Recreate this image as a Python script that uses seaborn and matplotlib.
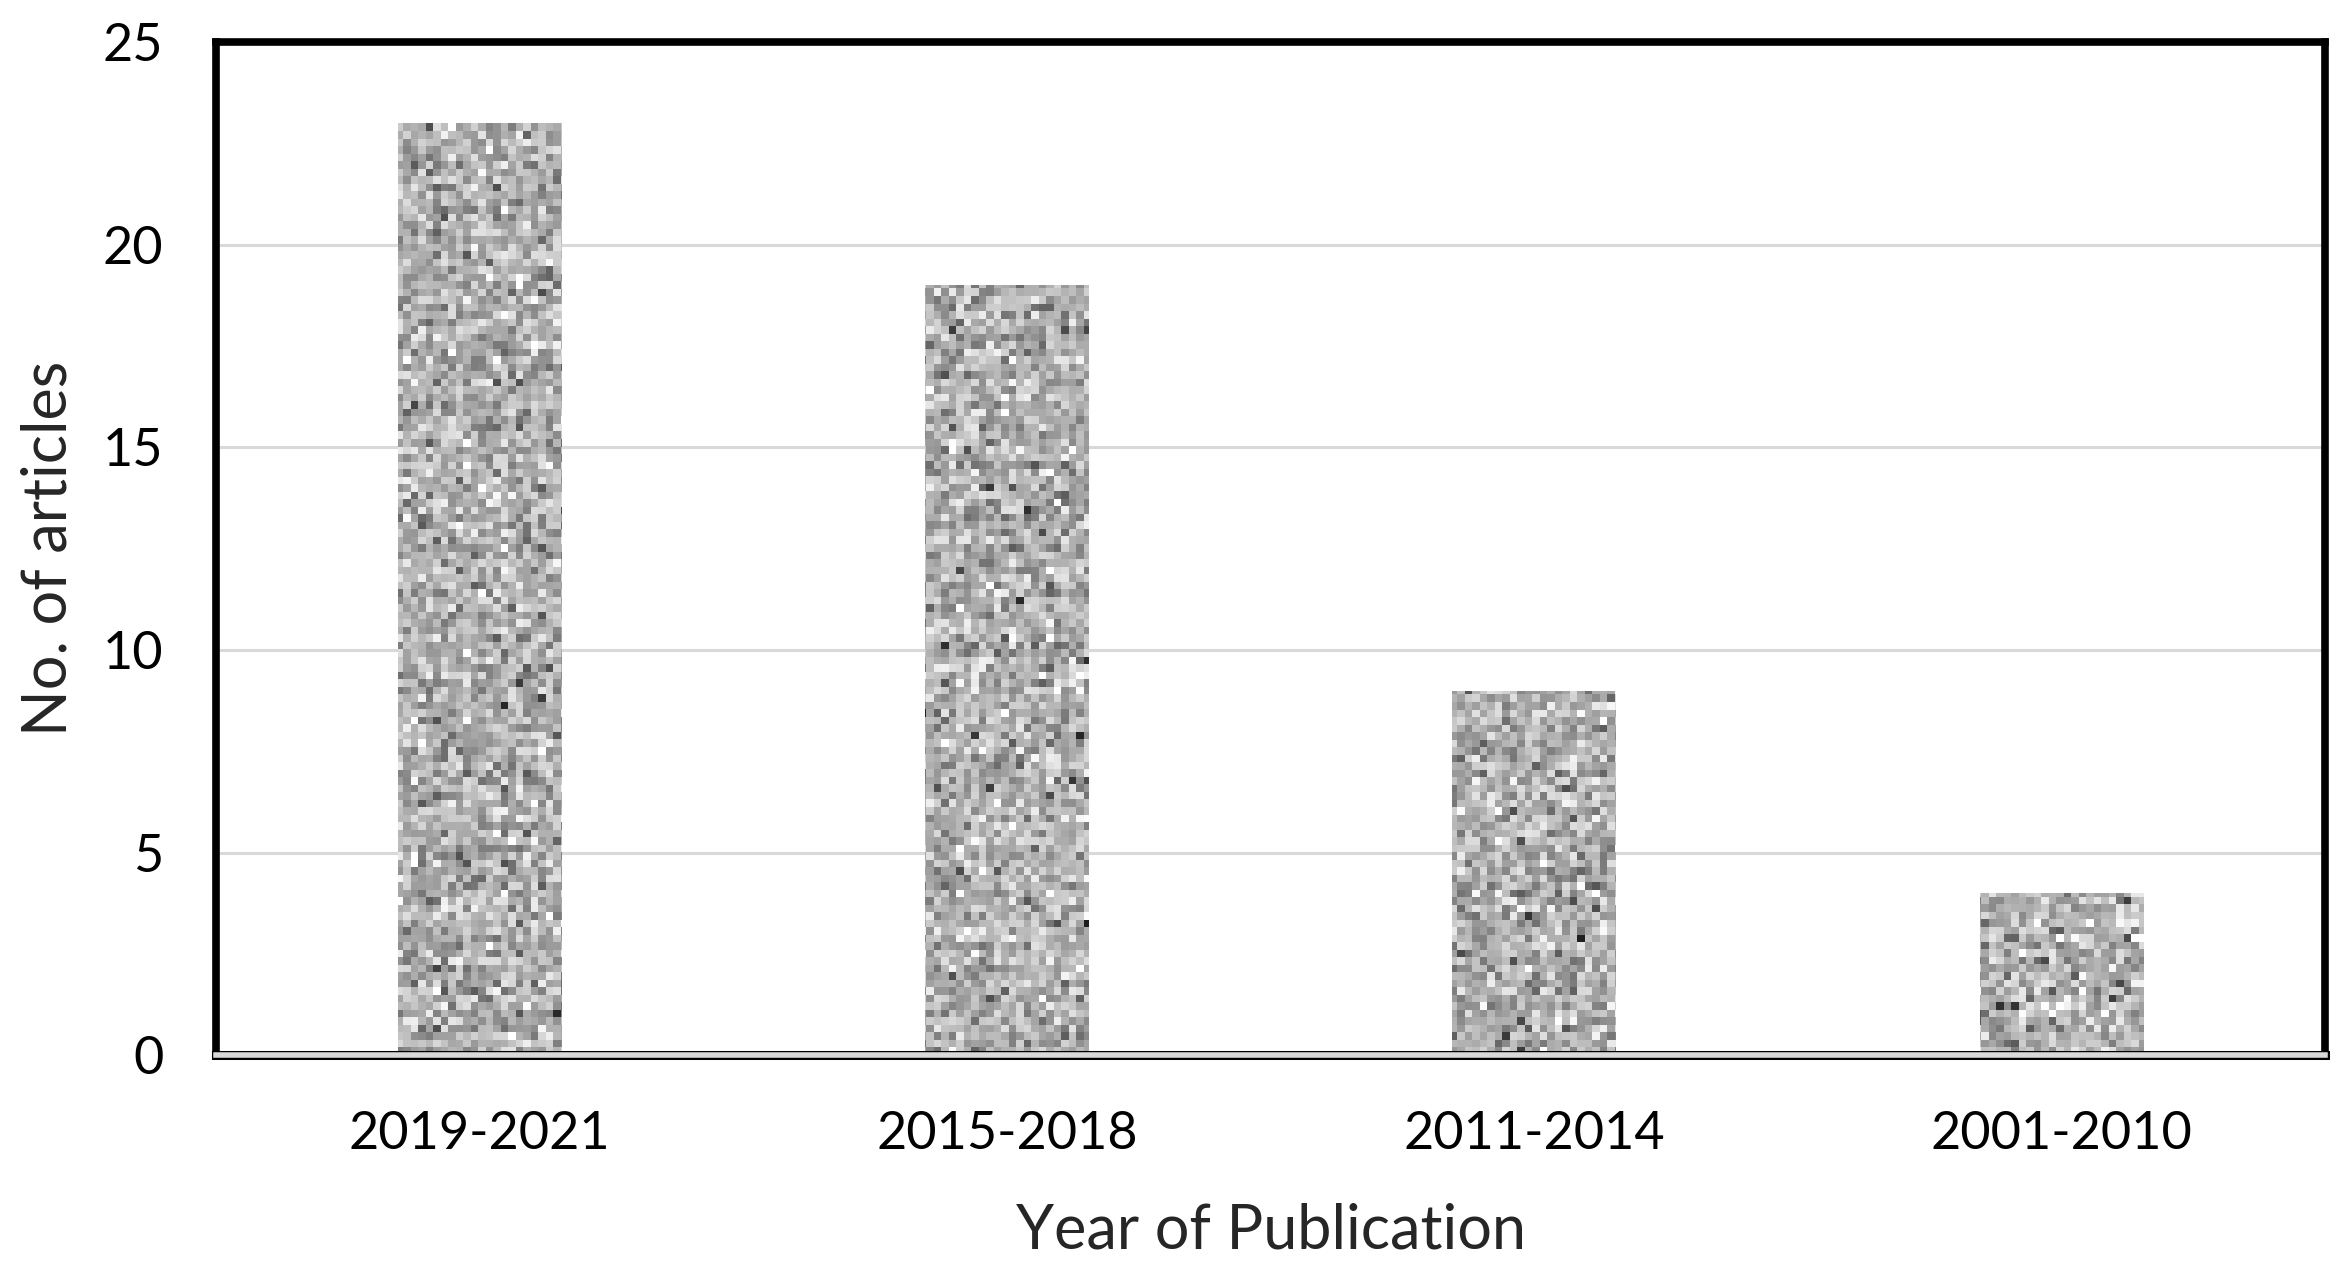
import numpy as np
import pandas as pd
import matplotlib
matplotlib.use('Agg')
import matplotlib.pyplot as plt
import matplotlib.patheffects as pe
import seaborn as sns

periods = ['2019-2021', '2015-2018', '2011-2014', '2001-2010']
articles = [23, 19, 9, 4]
y_ticks = [0, 5, 10, 15, 20, 25]

df = pd.DataFrame({'period': periods, 'articles': articles})

sns.set_theme(style='white')
plt.rcParams['font.family'] = ['Lato', 'DejaVu Sans']

fig = plt.figure(figsize=(23.39, 12.70), dpi=100)
ax = fig.add_axes([0.0924, 0.169, 0.9016, 0.798])

sns.barplot(data=df, x='period', y='articles', width=0.31, color='#9a9a9a',
            edgecolor='none', ax=ax, zorder=2)

ax.set_ylim(0, 25)
ax.set_xlim(-0.5, len(periods) - 0.5)
ax.set_yticks(y_ticks)
ax.yaxis.grid(True, color='#d9d9d9', linewidth=2.2, zorder=0)
ax.xaxis.grid(False)
ax.tick_params(axis='both', length=0, labelsize=37.5, labelcolor='black')
ax.tick_params(axis='y', pad=38)
ax.tick_params(axis='x', pad=40)

ax.set_xlabel('Year of Publication', fontsize=44, labelpad=32)
ax.set_ylabel('No. of articles', fontsize=44, labelpad=18)

# granite-like texture fill for the bars (style only, not data)
rng = np.random.default_rng(7)
noise = rng.normal(0.70, 0.13, size=(135, 282))
specks = rng.random(size=noise.shape) < 0.04
noise[specks] -= 0.25
noise = np.clip(noise, 0.12, 1.0)
for patch in ax.patches:
    im = ax.imshow(noise, cmap='gray', vmin=0, vmax=1, interpolation='nearest',
                   extent=(-0.5, len(periods) - 0.5, 0, 25), aspect='auto', zorder=3)
    im.set_clip_path(patch)
ax.set_xlim(-0.5, len(periods) - 0.5)
ax.set_ylim(0, 25)

for side in ['left', 'top', 'right']:
    ax.spines[side].set_visible(True)
    ax.spines[side].set_color('black')
    ax.spines[side].set_linewidth(5.5)
    ax.spines[side].set_capstyle('projecting')
ax.spines['bottom'].set_visible(True)
ax.spines['bottom'].set_color('#d9d9d9')
ax.spines['bottom'].set_linewidth(4)
ax.spines['bottom'].set_zorder(5)
ax.spines['bottom'].set_path_effects([pe.Stroke(linewidth=6.5, foreground='black'), pe.Normal()])

fig.savefig('out.png', dpi=100, facecolor='white')
